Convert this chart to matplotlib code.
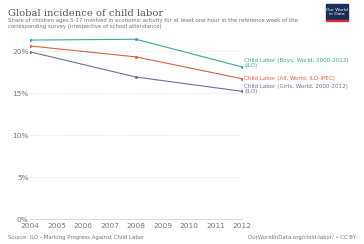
import matplotlib.pyplot as plt
from matplotlib.patches import Rectangle

years = [2004, 2008, 2012]
boys = [21.3, 21.4, 18.1]
all_children = [20.6, 19.3, 16.7]
girls = [19.9, 16.9, 15.2]

labels = ['Child Labor (Boys, World, 2000-2012)\n(ILO)',
          'Child Labor (All, World, ILO-IPEC)',
          'Child Labor (Girls, World, 2000-2012)\n(ILO)']
colors = ['#3aa99c', '#d9643f', '#6b7593']

fig = plt.figure(figsize=(3.64, 2.44), dpi=100)
W, H = 364, 244
# plot area in pixels: x 30..242, y 50(20%)..219(0%)
ax = fig.add_axes([30 / W, (H - 219) / H, 212 / W, (219 - 30) / H])

for vals, c in zip([boys, all_children, girls], colors):
    ax.plot(years, vals, color=c, lw=0.8, marker='o', ms=1.2)

ax.set_xlim(2004, 2012)
ax.set_ylim(0, 22.5)
ax.set_yticks([0, 5, 10, 15, 20])
ax.set_yticklabels(['0%', '5%', '10%', '15%', '20%'])
ax.set_xticks(range(2004, 2013))
ax.tick_params(axis='both', labelsize=5.3, colors='#777777', length=0)
ax.tick_params(axis='y', pad=1)
ax.tick_params(axis='x', pad=3)
ax.grid(axis='y', color='#dddddd', lw=0.5, ls=(0, (2, 2)))
for s in ['top', 'right', 'left']:
    ax.spines[s].set_visible(False)
ax.spines['bottom'].set_color('#cccccc')
ax.spines['bottom'].set_linewidth(0.5)

# end labels
label_y = [18.4, 16.7, 15.3]
for lab, c, ly in zip(labels, colors, label_y):
    va = 'top' if '\n' in lab else 'center'
    off = 0.75 if '\n' in lab else 0
    ax.text(2012.08, ly + off, lab, color=c, fontsize=4.1, va=va, ha='left',
            clip_on=False, linespacing=1.05)

fig.text(8 / W, 1 - 13 / H, 'Global incidence of child labor', fontsize=7.2,
         family='DejaVu Serif', color='#555555', va='center')
fig.text(8 / W, 1 - 23.5 / H,
         'Share of children ages 5-17 involved in economic activity for at least one hour in the reference week of the\n'
         'corresponding survey (irrespective of school attendance)',
         fontsize=3.85, color='#777777', va='center', linespacing=1.15)
fig.text(8 / W, 1 - 237 / H, 'Source: ILO - Marking Progress Against Child Labor',
         fontsize=3.9, color='#777777', va='center')
fig.text(356 / W, 1 - 237 / H, 'OurWorldInData.org/child-labor/ • CC BY',
         fontsize=3.9, color='#777777', va='center', ha='right')

# logo
fig.patches.append(Rectangle((326 / W, 1 - 20 / H), 22 / W, 16 / H, transform=fig.transFigure,
                             color='#1a2c57', zorder=5))
fig.patches.append(Rectangle((326 / W, 1 - 21 / H), 22 / W, 1.2 / H, transform=fig.transFigure,
                             color='#d73232', zorder=5))
fig.text(337 / W, 1 - 12 / H, 'Our World\nin Data', fontsize=3.2, color='white',
         ha='center', va='center', zorder=6, linespacing=1.0)

fig.savefig('out.png', dpi=100)
